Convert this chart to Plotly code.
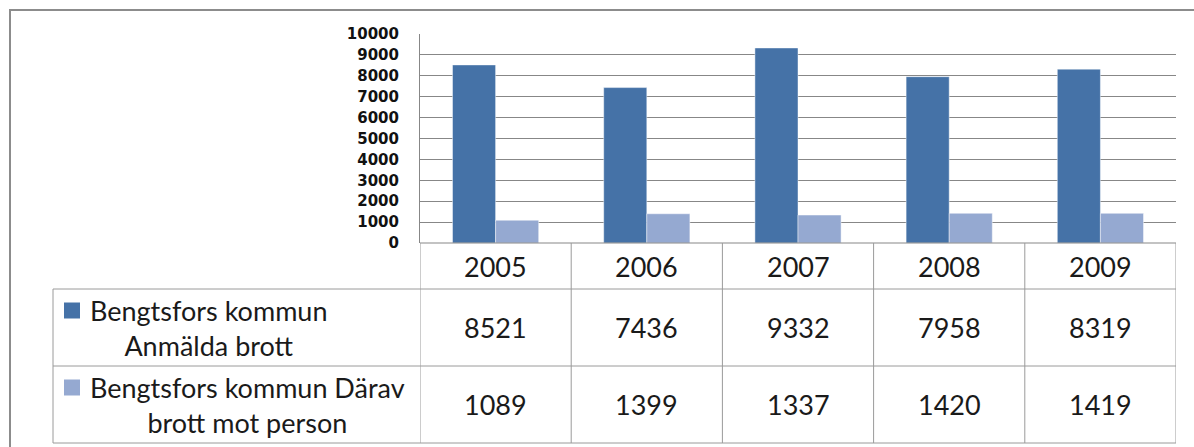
import plotly.graph_objects as go

W, H = 1194, 447

years = ["2005", "2006", "2007", "2008", "2009"]
anmalda = [8521, 7436, 9332, 7958, 8319]
person = [1089, 1399, 1337, 1420, 1419]
series_names = ["Bengtsfors kommun<br>Anmälda brott",
                "Bengtsfors kommun Därav<br>brott mot person"]
colors = ["#4572A7", "#95A9D1"]

grid = "#878787"
tline = "#9a9a9a"
tfont = dict(family="Lato, Carlito, sans-serif", size=27, color="#1a1a1a")


def px(x):
    return x / W


def py(y):
    return 1 - y / H


fig = go.Figure()
for vals, name, c in zip([anmalda, person], series_names, colors):
    fig.add_trace(go.Bar(x=years, y=vals, name=name, marker_color=c,
                         marker_line=dict(color="rgba(255,255,255,0.45)", width=1)))

fig.update_layout(
    width=W, height=H, autosize=False,
    margin=dict(l=0, r=0, t=0, b=0),
    paper_bgcolor="white", plot_bgcolor="white",
    showlegend=False, barmode="group", bargap=0.43, bargroupgap=0,
    xaxis=dict(type="category", domain=[px(420), px(1176)], range=[-0.5, 4.5],
               showticklabels=False, showgrid=False, zeroline=False,
               automargin=False),
    yaxis=dict(domain=[py(243), py(34)], range=[0, 10000], dtick=1000,
               tickformat="d", automargin=False,
               showgrid=True, gridcolor=grid, gridwidth=1,
               zeroline=False, showline=True, linecolor=grid, linewidth=1,
               ticklabelstandoff=17,
               tickfont=dict(family="DejaVu Sans", size=15, color="#111111",
                             weight="bold")),
)

# table: rows (header, series 1, series 2) in pixel rows
rows = [243, 289, 366, 443]
shapes = []
# outer frame
shapes.append(dict(type="rect", xref="paper", yref="paper",
                   x0=px(10), x1=1.02, y0=-0.05, y1=py(10),
                   line=dict(color="#8c8c8c", width=2)))
# horizontal table lines
shapes.append(dict(type="line", xref="x", yref="paper", x0=-0.5, x1=4.5,
                   y0=py(rows[0]), y1=py(rows[0]), line=dict(color=grid, width=1)))
for r in rows[1:]:
    shapes.append(dict(type="line", xref="paper", yref="paper",
                       x0=px(53), x1=px(1176), y0=py(r), y1=py(r),
                       line=dict(color=tline, width=1)))
# vertical table lines
for k in range(len(years) + 1):
    shapes.append(dict(type="line", xref="x", yref="paper",
                       x0=k - 0.5, x1=k - 0.5, y0=py(rows[0]), y1=py(rows[-1]),
                       line=dict(color=tline, width=1)))
shapes.append(dict(type="line", xref="paper", yref="paper",
                   x0=px(53), x1=px(53), y0=py(rows[1]), y1=py(rows[-1]),
                   line=dict(color=tline, width=1)))

annotations = []
for i, yr in enumerate(years):
    annotations.append(dict(x=i, xref="x", yref="paper", xanchor="center",
                            yanchor="middle",
                            y=py((rows[0] + rows[1]) / 2), text=yr,
                            showarrow=False, font=tfont))
for j, (vals, name, c) in enumerate(zip([anmalda, person], series_names, colors)):
    yc = (rows[j + 1] + rows[j + 2]) / 2
    for i, v in enumerate(vals):
        annotations.append(dict(x=i, xref="x", yref="paper", y=py(yc),
                                xanchor="center", yanchor="middle",
                                text=str(v), showarrow=False, font=tfont))
    annotations.append(dict(x=px(88), xref="paper", xanchor="left", align="center",
                            y=py(yc), yref="paper", yanchor="middle", text=name,
                            showarrow=False, font=tfont))
    shapes.append(dict(type="rect", xref="paper", yref="paper",
                       x0=px(64), x1=px(80), y0=py(yc - 9), y1=py(yc - 25),
                       fillcolor=c, line=dict(width=0)))

fig.update_layout(shapes=shapes, annotations=annotations)

fig.write_html("out.html", config={"displayModeBar": False},
               post_script="document.body.style.margin='0';")
